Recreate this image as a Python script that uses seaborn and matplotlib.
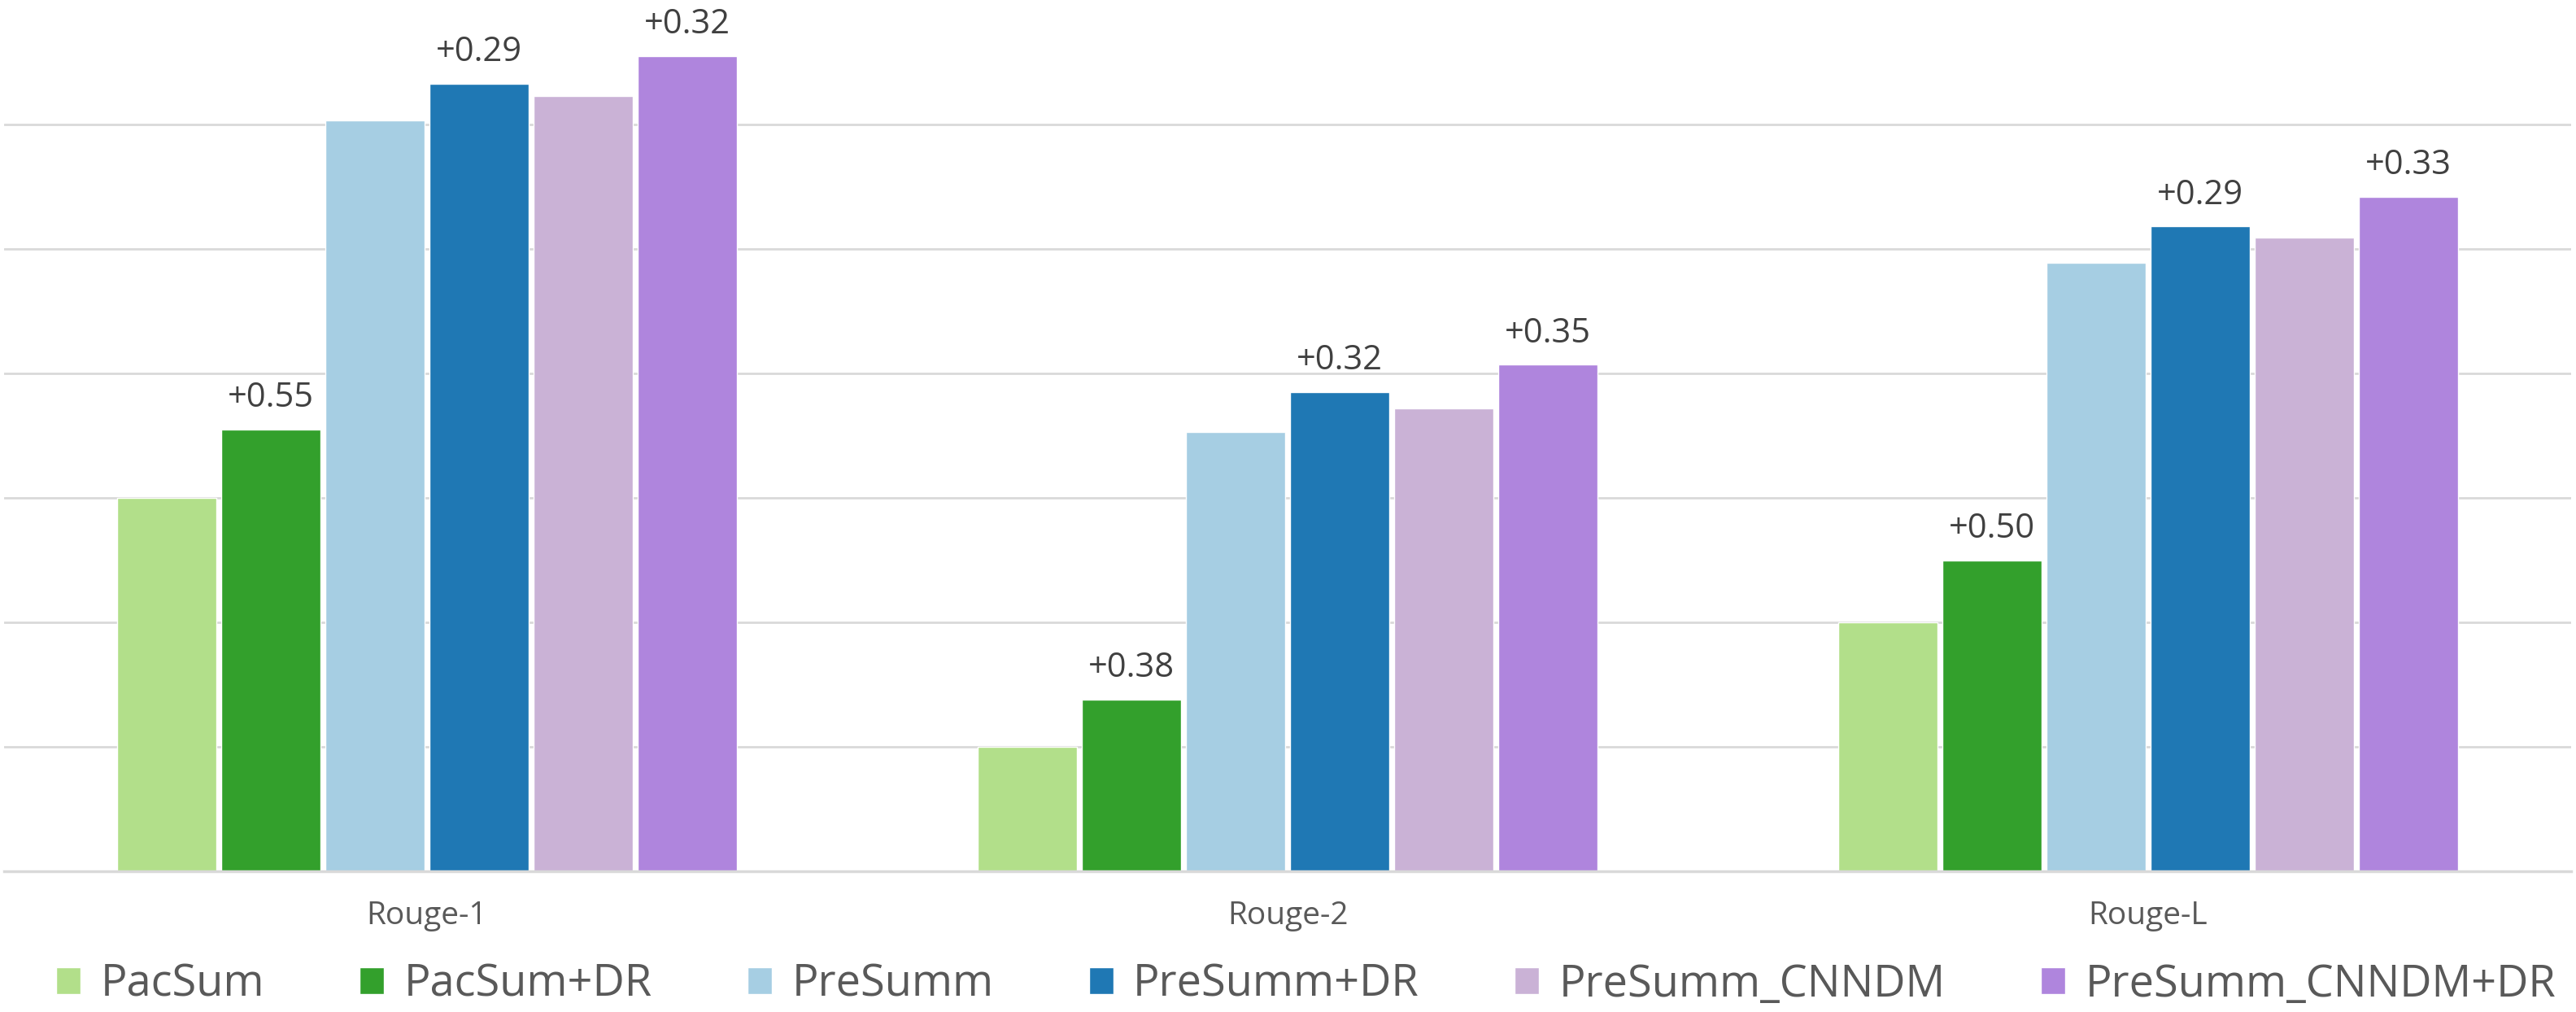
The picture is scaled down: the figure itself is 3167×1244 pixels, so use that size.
import matplotlib
matplotlib.use("Agg")
import matplotlib.pyplot as plt
import seaborn as sns
import pandas as pd

sns.set_theme(style="white")
plt.rcParams["font.family"] = ["Open Sans", "DejaVu Sans"]

# values (axis units: one gridline = 1 point)
metrics = ["Rouge-1", "Rouge-2", "Rouge-L"]
models = ["PacSum", "PacSum+DR", "PreSumm", "PreSumm+DR", "PreSumm_CNNDM", "PreSumm_CNNDM+DR"]
pacsum = [3.00, 1.00, 2.00]
pacsum_dr = [3.55, 1.38, 2.50]
presumm = [6.03, 3.53, 4.89]
presumm_dr = [6.33, 3.85, 5.18]
presumm_cnndm = [6.23, 3.72, 5.09]
presumm_cnndm_dr = [6.55, 4.07, 5.42]

# gain labels shown above the "+DR" bars
gain_labels = {
    "PacSum+DR": ["+0.55", "+0.38", "+0.50"],
    "PreSumm+DR": ["+0.29", "+0.32", "+0.29"],
    "PreSumm_CNNDM+DR": ["+0.32", "+0.35", "+0.33"],
}

colors = ["#b2df8a", "#33a02c", "#a6cee3", "#1f78b4", "#cab2d6", "#af85dd"]

series = [pacsum, pacsum_dr, presumm, presumm_dr, presumm_cnndm, presumm_cnndm_dr]
rows = []
for model, vals in zip(models, series):
    for metric, v in zip(metrics, vals):
        rows.append({"metric": metric, "model": model, "score": v})
df = pd.DataFrame(rows)

fig = plt.figure(figsize=(31.67, 12.44), dpi=100)
ax = fig.add_axes([0.0016, 0.139, 0.9965, 0.861])

sns.barplot(
    data=df,
    x="metric",
    y="score",
    hue="model",
    hue_order=models,
    order=metrics,
    palette=colors,
    saturation=1,
    width=0.726,
    gap=0.05,
    errorbar=None,
    ax=ax,
)

# data labels on the +DR bars
for model, container in zip(models, ax.containers):
    if model not in gain_labels:
        continue
    for bar, text in zip(container, gain_labels[model]):
        ax.annotate(
            text,
            (bar.get_x() + bar.get_width() / 2, bar.get_height()),
            xytext=(0, 20),
            textcoords="offset points",
            ha="center",
            va="baseline",
            fontsize=30,
            color="#404040",
        )

ax.set_ylim(0, 7)
ax.set_xlim(-0.4915, 2.4915)
ax.set_yticks([0, 1, 2, 3, 4, 5, 6])
ax.set_yticklabels([])
ax.yaxis.grid(True, color="#d9d9d9", linewidth=2)
ax.set_axisbelow(True)
ax.set_xlabel("")
ax.set_ylabel("")
ax.tick_params(axis="x", length=0, pad=26, labelsize=28, labelcolor="#595959")
ax.tick_params(axis="y", length=0)
for side in ["left", "right", "top"]:
    ax.spines[side].set_visible(False)
ax.spines["bottom"].set_color("#d9d9d9")
ax.spines["bottom"].set_linewidth(2.5)

handles, labels = ax.get_legend_handles_labels()
ax.get_legend().remove()
fig.legend(
    handles,
    labels,
    loc="center",
    bbox_to_anchor=(0.507, 0.027),
    ncol=6,
    frameon=False,
    fontsize=39,
    labelcolor="#595959",
    handlelength=0.55,
    handleheight=0.55,
    handletextpad=0.45,
    columnspacing=2.17,
)

fig.savefig("out.png", dpi=100)
